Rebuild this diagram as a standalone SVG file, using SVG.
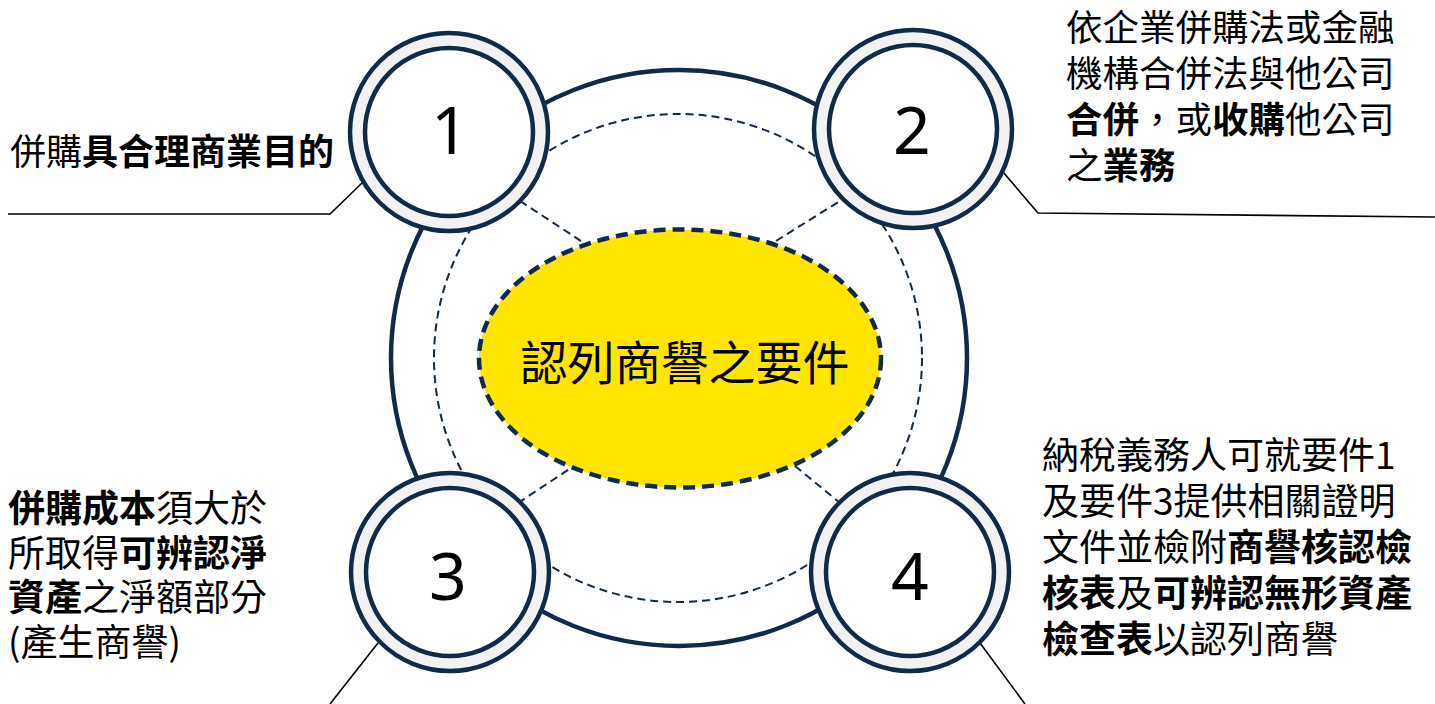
<svg xmlns="http://www.w3.org/2000/svg" width="1435" height="704" viewBox="0 0 1435 704">
<style>
.ring{fill:#F2F2F2;stroke:#102A48;stroke-width:4.5}
.inner{fill:#FFFFFF;stroke:#102A48;stroke-width:4.5}
.num{font-family:"Noto Sans","Open Sans",sans-serif;font-size:66px;fill:#000;text-anchor:middle}
.dash{fill:none;stroke:#102A48;stroke-width:2;stroke-dasharray:8 5}
.callout{fill:none;stroke:#000;stroke-width:1.6}
.t{font-family:"Noto Sans CJK TC","Noto Sans CJK SC",sans-serif;fill:#000}
.b{font-weight:bold}
</style>
<rect width="1435" height="704" fill="#FFFFFF"/>
<g id="frame">
<circle cx="679" cy="358" r="288" fill="none" stroke="#102A48" stroke-width="4.5"/>
<circle cx="678" cy="358" r="244" class="dash"/>
</g>
<g id="connectors">
<line x1="520" y1="201" x2="584" y2="243" class="dash"/>
<line x1="776" y1="241" x2="840" y2="201" class="dash"/>
<line x1="518" y1="503" x2="571" y2="468" class="dash"/>
<line x1="795" y1="466" x2="840" y2="503" class="dash"/>
<polyline points="8,214 330,214 362,183" class="callout"/>
<polyline points="1003,172 1038,213 1435,217" class="callout"/>
<line x1="378" y1="643" x2="330" y2="704" class="callout"/>
<line x1="980" y1="643" x2="1025" y2="704" class="callout"/>
</g>
<g id="center">
<ellipse cx="680" cy="358.5" rx="201" ry="129" fill="#FFE500" stroke="#102A48" stroke-width="4.5" stroke-dasharray="12 7"/>
<text x="685" y="380" class="t" font-size="47" text-anchor="middle">認列商譽之要件</text>
</g>
<g id="node1">
<circle cx="449" cy="132" r="99" class="ring"/>
<circle cx="449" cy="132" r="84" class="inner"/>
<text x="450" y="154" class="num">1</text>
</g>
<g id="node2">
<circle cx="913" cy="129" r="99" class="ring"/>
<circle cx="913" cy="129" r="84" class="inner"/>
<text x="912" y="154" class="num">2</text>
</g>
<g id="node3">
<circle cx="450" cy="572" r="99" class="ring"/>
<circle cx="450" cy="572" r="84" class="inner"/>
<text x="448" y="600" class="num">3</text>
</g>
<g id="node4">
<circle cx="910" cy="572" r="99" class="ring"/>
<circle cx="910" cy="572" r="84" class="inner"/>
<text x="910" y="600" class="num">4</text>
</g>
<g id="label1">
<text x="10" y="165" class="t" font-size="36">併購<tspan class="b">具合理商業目的</tspan></text>
</g>
<g id="label2" class="t" font-size="36.5">
<text x="1066" y="41">依企業併購法或金融</text>
<text x="1066" y="86.5">機構合併法與他公司</text>
<text x="1066" y="132.5"><tspan class="b">合併</tspan>，或<tspan class="b">收購</tspan>他公司</text>
<text x="1066" y="178.5">之<tspan class="b">業務</tspan></text>
</g>
<g id="label3" class="t" font-size="37">
<text x="8" y="522"><tspan class="b">併購成本</tspan>須大於</text>
<text x="8" y="566.5">所取得<tspan class="b">可辨認淨</tspan></text>
<text x="8" y="611"><tspan class="b">資產</tspan>之淨額部分</text>
<text x="8" y="655.5">(產生商譽)</text>
</g>
<g id="label4" class="t" font-size="37">
<text x="1042" y="469">納稅義務人可就要件1</text>
<text x="1042" y="515">及要件3提供相關證明</text>
<text x="1042" y="561">文件並檢附<tspan class="b">商譽核認檢</tspan></text>
<text x="1042" y="607"><tspan class="b">核表</tspan>及<tspan class="b">可辨認無形資產</tspan></text>
<text x="1042" y="653"><tspan class="b">檢查表</tspan>以認列商譽</text>
</g>
</svg>
